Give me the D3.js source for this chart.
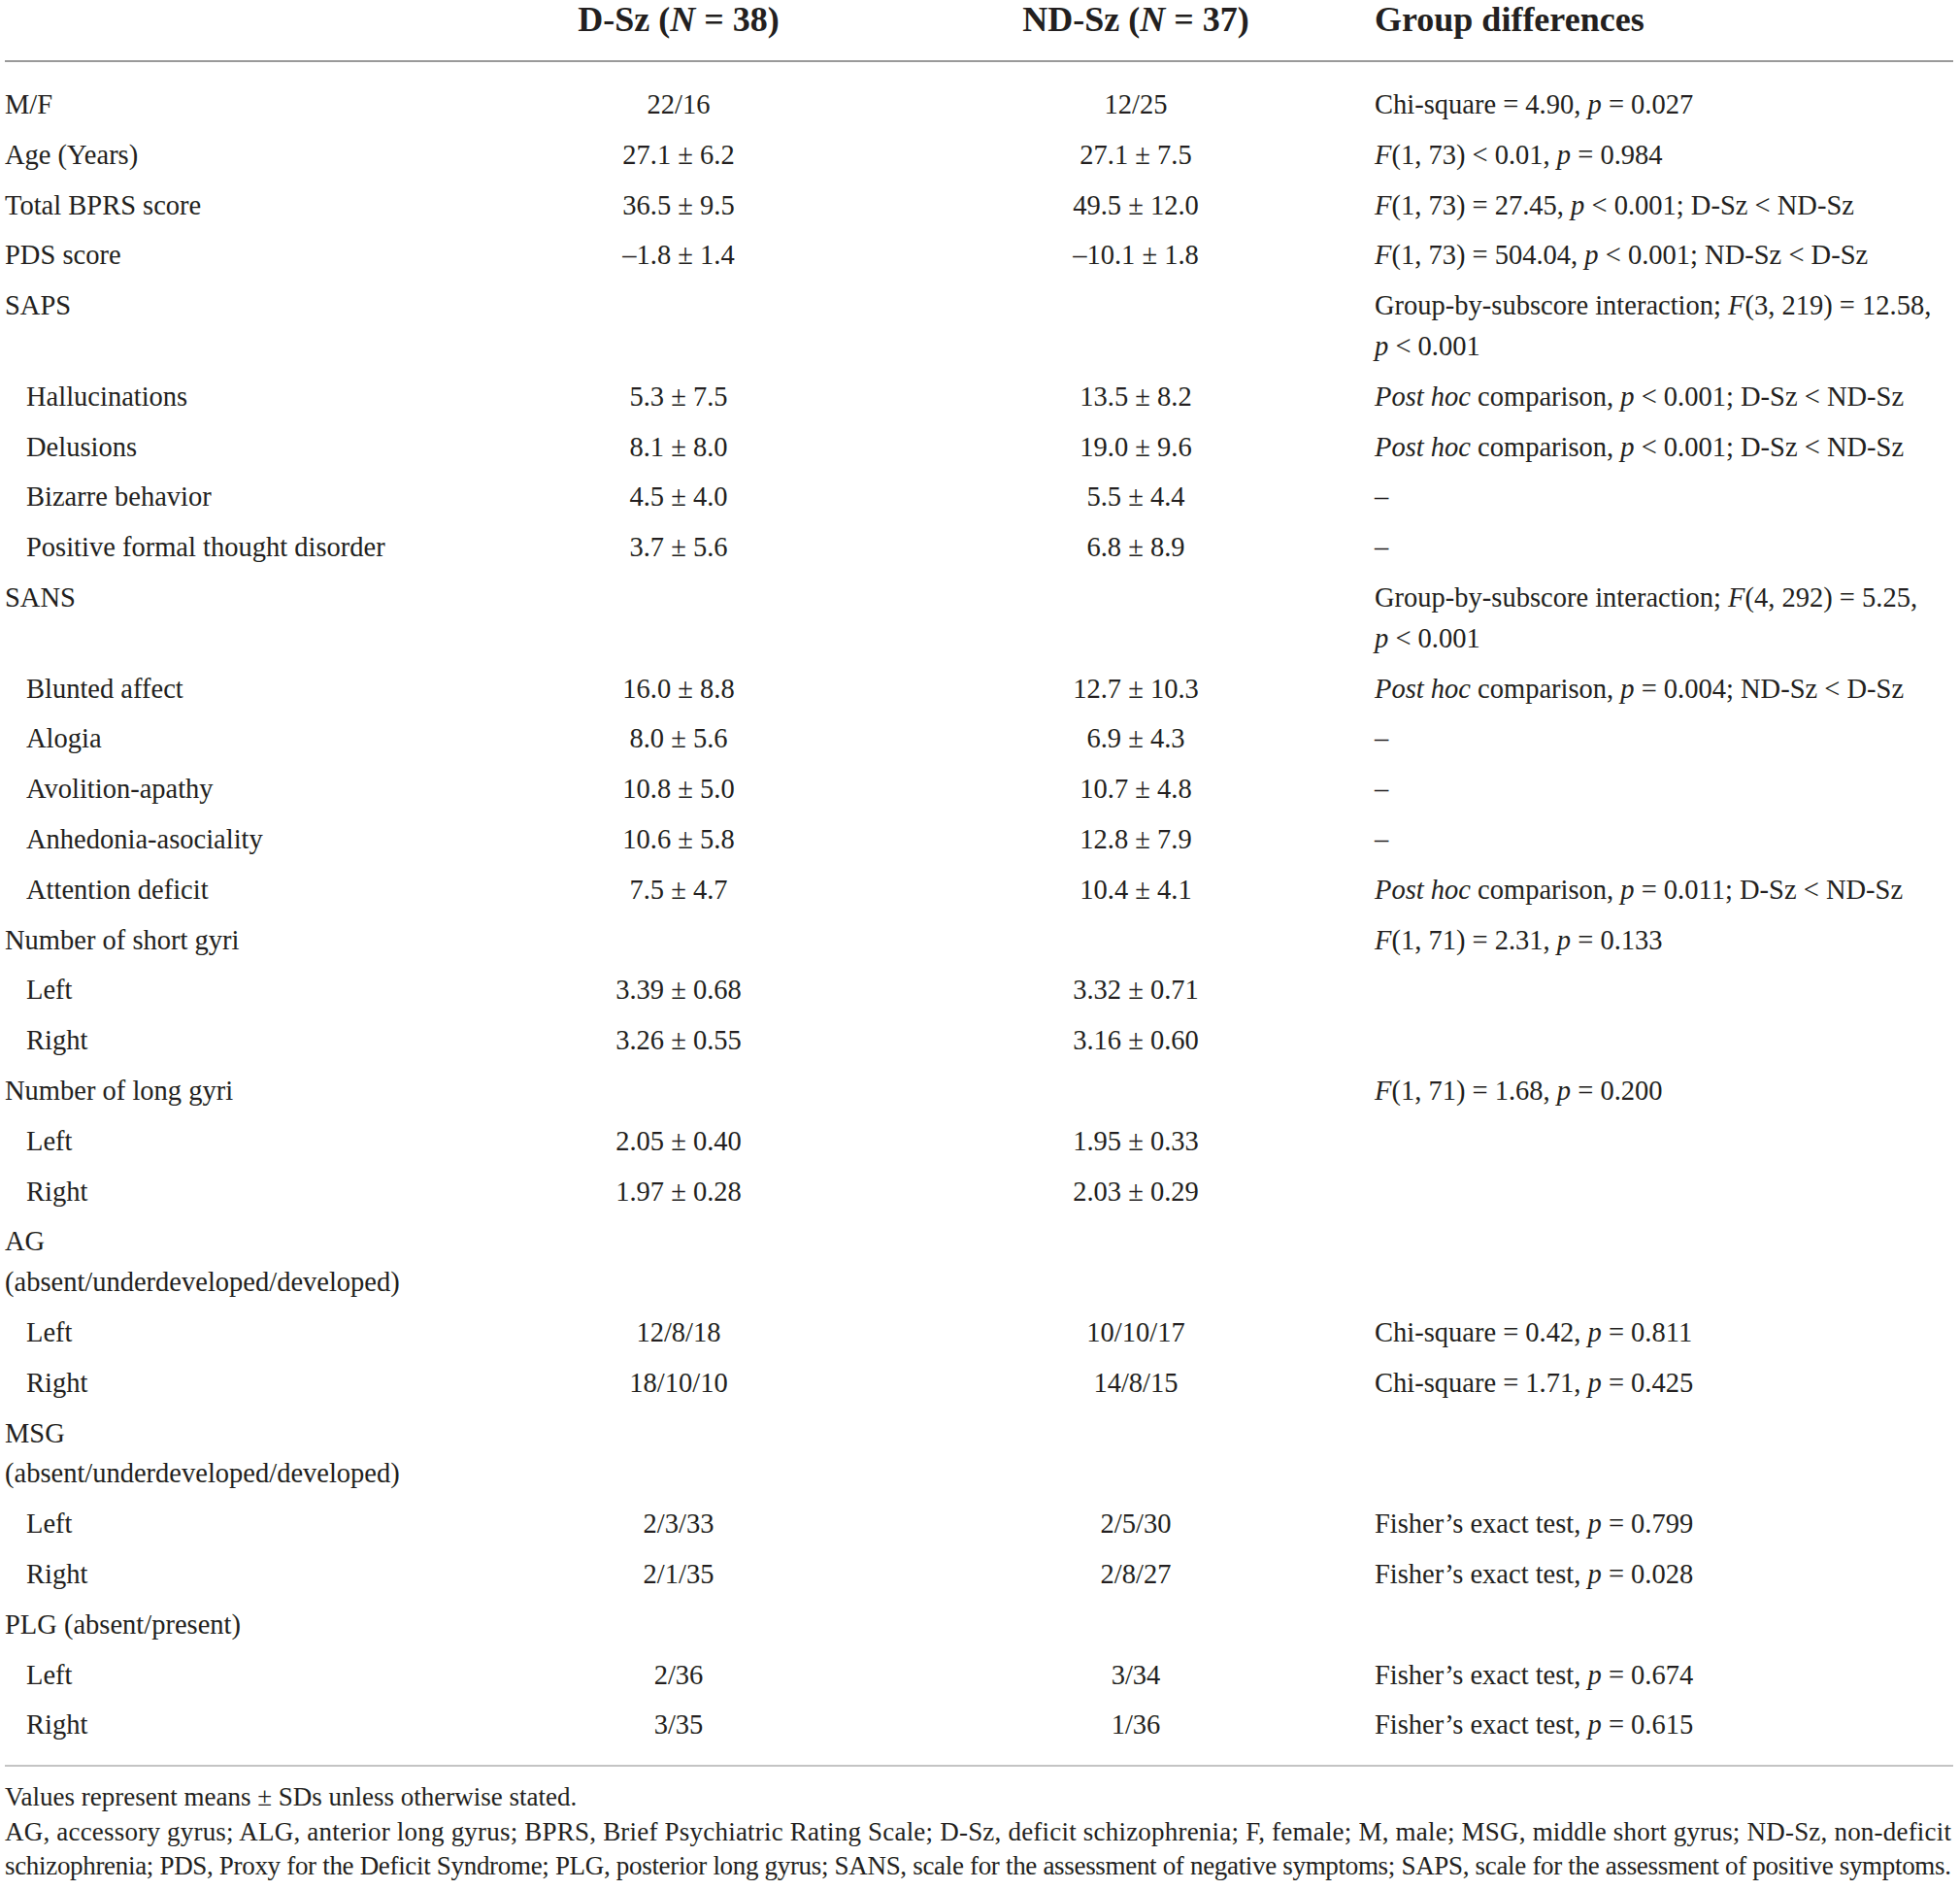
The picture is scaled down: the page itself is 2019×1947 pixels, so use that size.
<!DOCTYPE html>
<html>
<head>
<meta charset="utf-8">
<script src="https://cdn.jsdelivr.net/npm/d3@7"></script>
<style>
  body { margin: 0; background: #fff; }
  text { font-family: "Liberation Serif", "Times New Roman", serif; fill: #231f20; }
</style>
</head>
<body>
<svg id="table"></svg>
<script>
// Table content (underscores mark italic runs, \n marks a line break)
const columnKeys = ["label", "dsz", "ndsz", "diff"];
const columnHeaders = ["", "D-Sz (_N_ = 38)", "ND-Sz (_N_ = 37)", "Group differences"];

const rowLabels = [
  "M/F", "Age (Years)", "Total BPRS score", "PDS score", "SAPS",
  "Hallucinations", "Delusions", "Bizarre behavior", "Positive formal thought disorder",
  "SANS", "Blunted affect", "Alogia", "Avolition-apathy", "Anhedonia-asociality", "Attention deficit",
  "Number of short gyri", "Left", "Right", "Number of long gyri", "Left", "Right",
  "AG\n(absent/underdeveloped/developed)", "Left", "Right",
  "MSG\n(absent/underdeveloped/developed)", "Left", "Right",
  "PLG (absent/present)", "Left", "Right"
];
const rowIndent = [0, 0, 0, 0, 0, 1, 1, 1, 1, 0, 1, 1, 1, 1, 1, 0, 1, 1, 0, 1, 1, 0, 1, 1, 0, 1, 1, 0, 1, 1];

const dszValues = [
  "22/16", "27.1 ± 6.2", "36.5 ± 9.5", "–1.8 ± 1.4", "",
  "5.3 ± 7.5", "8.1 ± 8.0", "4.5 ± 4.0", "3.7 ± 5.6",
  "", "16.0 ± 8.8", "8.0 ± 5.6", "10.8 ± 5.0", "10.6 ± 5.8", "7.5 ± 4.7",
  "", "3.39 ± 0.68", "3.26 ± 0.55", "", "2.05 ± 0.40", "1.97 ± 0.28",
  "", "12/8/18", "18/10/10", "", "2/3/33", "2/1/35", "", "2/36", "3/35"
];
const ndszValues = [
  "12/25", "27.1 ± 7.5", "49.5 ± 12.0", "–10.1 ± 1.8", "",
  "13.5 ± 8.2", "19.0 ± 9.6", "5.5 ± 4.4", "6.8 ± 8.9",
  "", "12.7 ± 10.3", "6.9 ± 4.3", "10.7 ± 4.8", "12.8 ± 7.9", "10.4 ± 4.1",
  "", "3.32 ± 0.71", "3.16 ± 0.60", "", "1.95 ± 0.33", "2.03 ± 0.29",
  "", "10/10/17", "14/8/15", "", "2/5/30", "2/8/27", "", "3/34", "1/36"
];
const groupDiffs = [
  "Chi-square = 4.90, _p_ = 0.027",
  "_F_(1, 73) < 0.01, _p_ = 0.984",
  "_F_(1, 73) = 27.45, _p_ < 0.001; D-Sz < ND-Sz",
  "_F_(1, 73) = 504.04, _p_ < 0.001; ND-Sz < D-Sz",
  "Group-by-subscore interaction; _F_(3, 219) = 12.58,\n_p_ < 0.001",
  "_Post hoc_ comparison, _p_ < 0.001; D-Sz < ND-Sz",
  "_Post hoc_ comparison, _p_ < 0.001; D-Sz < ND-Sz",
  "–", "–",
  "Group-by-subscore interaction; _F_(4, 292) = 5.25,\n_p_ < 0.001",
  "_Post hoc_ comparison, _p_ = 0.004; ND-Sz < D-Sz",
  "–", "–", "–",
  "_Post hoc_ comparison, _p_ = 0.011; D-Sz < ND-Sz",
  "_F_(1, 71) = 2.31, _p_ = 0.133", "", "",
  "_F_(1, 71) = 1.68, _p_ = 0.200", "", "",
  "", "Chi-square = 0.42, _p_ = 0.811", "Chi-square = 1.71, _p_ = 0.425",
  "", "Fisher’s exact test, _p_ = 0.799", "Fisher’s exact test, _p_ = 0.028",
  "", "Fisher’s exact test, _p_ = 0.674", "Fisher’s exact test, _p_ = 0.615"
];

const footnotes = [
  "Values represent means ± SDs unless otherwise stated.",
  "AG, accessory gyrus; ALG, anterior long gyrus; BPRS, Brief Psychiatric Rating Scale; D-Sz, deficit schizophrenia; F, female; M, male; MSG, middle short gyrus; ND-Sz, non-deficit",
  "schizophrenia; PDS, Proxy for the Deficit Syndrome; PLG, posterior long gyrus; SANS, scale for the assessment of negative symptoms; SAPS, scale for the assessment of positive symptoms."
];
const footnoteJustified = [false, true, true];

// Layout
const width = 2019, height = 1947;
const bodySize = 28.5, headSize = 36, noteSize = 27;
const wrapRatio = 41.8 / 51.8; // wrapped line step relative to row step

const svg = d3.select("#table").attr("width", width).attr("height", height);

const x = d3.scaleOrdinal().domain(columnKeys).range([5, 699, 1170, 1416]);
const anchor = d3.scaleOrdinal().domain(columnKeys).range(["start", "middle", "middle", "start"]);

// row positions in "row units", wrapped lines take a smaller step
const rows = rowLabels.map((label, i) => ({
  label, indent: rowIndent[i], dsz: dszValues[i], ndsz: ndszValues[i], diff: groupDiffs[i]
}));
let acc = 0;
rows.forEach(r => {
  r.pos = acc;
  const lines = d3.max(columnKeys, k => r[k].split("\n").length);
  acc += 1 + (lines - 1) * wrapRatio;
});
const lastPos = rows[rows.length - 1].pos;
const y = d3.scaleLinear().domain([0, lastPos]).range([117, 117 + lastPos * 51.8]);

// write a string with _italic_ runs into a text node
function rich(sel, str) {
  str.split("_").forEach((part, j) => {
    if (!part) return;
    sel.append("tspan").attr("font-style", j % 2 ? "italic" : null).text(part);
  });
}

// header
const head = svg.append("g");
columnKeys.forEach((k, i) => {
  if (!columnHeaders[i]) return;
  head.append("text")
    .attr("x", x(k)).attr("y", 32)
    .attr("text-anchor", anchor(k))
    .attr("font-size", headSize).attr("font-weight", "bold")
    .call(rich, columnHeaders[i]);
});

svg.append("line")
  .attr("x1", 5).attr("x2", 2012).attr("y1", 63).attr("y2", 63)
  .attr("stroke", "#9a9a9a").attr("stroke-width", 2);

// body
const rowG = svg.append("g").selectAll("g").data(rows).join("g");
columnKeys.forEach(k => {
  rowG.each(function(r) {
    r[k].split("\n").forEach((line, li) => {
      if (!line) return;
      const xx = k === "label" && r.indent ? x(k) + 22 : x(k);
      d3.select(this).append("text")
        .attr("x", xx)
        .attr("y", y(r.pos + li * wrapRatio))
        .attr("text-anchor", anchor(k))
        .attr("font-size", bodySize)
        .call(rich, line);
    });
  });
});

svg.append("line")
  .attr("x1", 5).attr("x2", 2012).attr("y1", 1819).attr("y2", 1819)
  .attr("stroke", "#c4c4c4").attr("stroke-width", 2);

// footnotes
const noteY = d3.scaleLinear().domain([0, 2]).range([1860, 1931]);
footnotes.forEach((t, i) => {
  const n = svg.append("text")
    .attr("x", 5).attr("y", noteY(i))
    .attr("font-size", noteSize)
    .text(t);
  if (footnoteJustified[i]) n.attr("textLength", 2005).attr("lengthAdjust", "spacing");
});
</script>
</body>
</html>
